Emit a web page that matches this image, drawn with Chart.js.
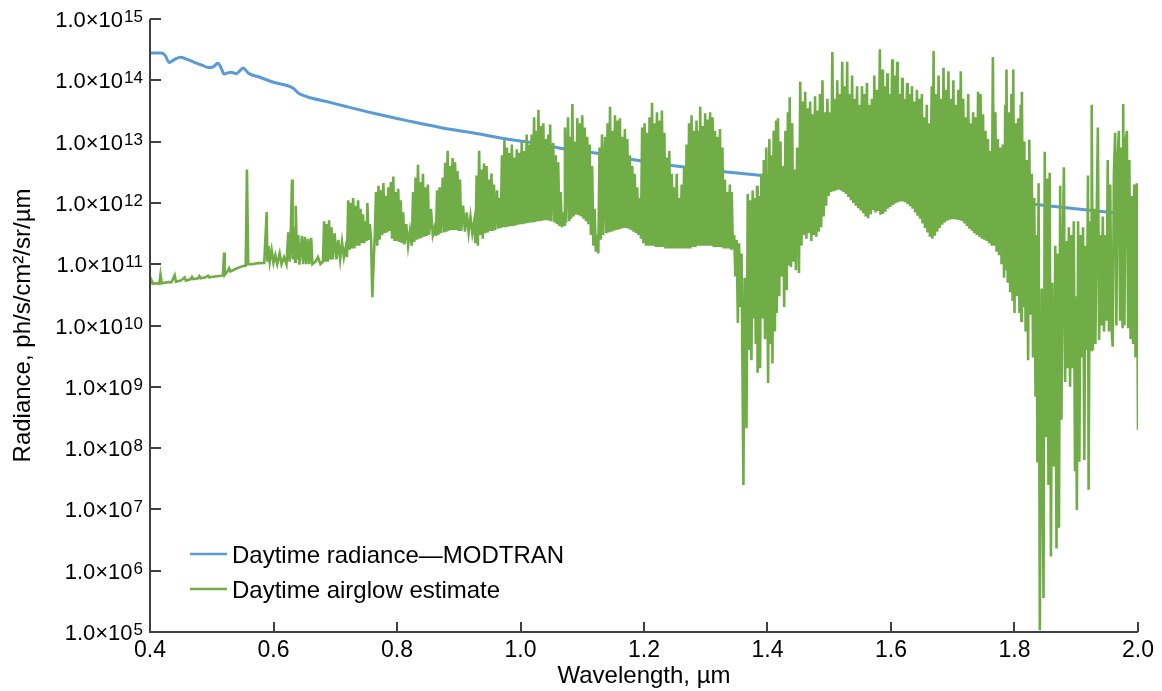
<!DOCTYPE html>
<html lang="en">
<head>
<meta charset="utf-8">
<title>Daytime radiance vs airglow</title>
<script src="https://cdn.jsdelivr.net/npm/chart.js"></script>
<style>
  html, body { margin: 0; padding: 0; background: #fff; }
</style>
</head>
<body>
<canvas id="myChart" width="1162" height="691"></canvas>
<script>
// tick values and labels
const wavelengthTicks = [0.4, 0.6, 0.8, 1.0, 1.2, 1.4, 1.6, 1.8, 2.0];
const radianceExponents = [5, 6, 7, 8, 9, 10, 11, 12, 13, 14, 15];
const seriesNames = ['Daytime radiance\u2014MODTRAN', 'Daytime airglow estimate'];
const xTitle = 'Wavelength, \u00b5m';
const yTitle = 'Radiance, ph/s/cm\u00b2/sr/\u00b5m';

// [wavelength um, radiance]
const modtran = [
  [0.400,2.8e14],[0.419,2.8e14],[0.425,2.5e14],[0.431,1.95e14],[0.440,2.2e14],[0.449,2.37e14],
  [0.460,2.2e14],[0.473,1.95e14],[0.485,1.75e14],[0.494,1.62e14],[0.502,1.65e14],[0.510,1.9e14],
  [0.515,1.6e14],[0.520,1.26e14],[0.526,1.32e14],[0.531,1.35e14],[0.540,1.28e14],[0.546,1.45e14],
  [0.551,1.58e14],[0.557,1.38e14],[0.562,1.26e14],[0.578,1.12e14],[0.600,9.3e13],[0.627,7.9e13],
  [0.633,7.3e13],[0.640,6.2e13],[0.654,5.4e13],[0.686,4.5e13],[0.719,3.7e13],[0.762,2.9e13],
  [0.816,2.2e13],[0.870,1.7e13],[0.924,1.38e13],[0.978,1.1e13],[1.032,9.1e12],[1.064,7.8e12],
  [1.118,6.6e12],[1.172,5.3e12],[1.226,4.3e12],[1.334,3.2e12],[1.420,2.6e12],[1.496,2.1e12],
  [1.658,1.45e12],[1.717,1.23e12],[1.820,9.8e11],[1.949,7.1e11],[2.000,6.3e11]
];

const airglow = [
  // visible, mostly smooth continuum
  [0.400,4.6e10],[0.402,5.6e10],[0.405,4.8e10],[0.410,4.9e10],[0.415,4.8e10],[0.417,6.8e10],[0.419,4.9e10],
  [0.425,5.0e10],[0.430,5.1e10],[0.435,5.1e10],[0.440,6.6e10],[0.442,5.2e10],[0.450,5.4e10],[0.456,6.1e10],
  [0.458,5.4e10],[0.466,5.7e10],[0.468,6.2e10],[0.470,5.7e10],[0.478,5.9e10],[0.480,6.4e10],[0.482,5.9e10],
  [0.490,6.1e10],[0.494,6.5e10],[0.496,6.1e10],[0.505,6.3e10],[0.515,6.5e10],[0.518,6.6e10],[0.520,1.55e11],
  [0.521,6.7e10],[0.526,7.8e10],[0.528,8.6e10],[0.530,7.6e10],[0.540,8.5e10],[0.550,9.3e10],[0.555,9.5e10],
  [0.557,3.5e12],[0.559,1.0e11],[0.565,1.0e11],[0.575,1.04e11],[0.585,1.05e11],
  // 0.59 - 0.79
  [0.589,7.1e11],[0.590,1.1e11],[0.592,2.0e11],[0.594,1.1e11],[0.597,1.7e11],[0.600,1.05e11],[0.603,1.4e11],
  [0.606,1.0e11],[0.610,1.5e11],[0.613,1.0e11],[0.617,1.3e11],[0.621,1.0e11],[0.624,3.3e11],[0.626,1.1e11],
  [0.628,3.6e11],[0.630,2.4e12],[0.631,1.2e11],[0.633,4.0e11],[0.635,1.1e11],[0.636,9.0e11],[0.638,1.2e11],
  [0.640,3.0e11],[0.642,9.8e10],[0.646,2.9e11],[0.648,1.0e11],[0.651,2.8e11],[0.653,1.0e11],[0.656,2.6e11],
  [0.658,1.0e11],[0.661,2.7e11],[0.663,1.0e11],[0.668,1.1e11],[0.672,1.3e11],[0.676,1.0e11],[0.680,1.1e11],
  [0.682,5.0e11],[0.684,1.1e11],[0.686,4.5e11],[0.688,1.1e11],[0.690,5.2e11],[0.692,1.2e11],[0.694,4.0e11],
  [0.696,1.2e11],[0.699,3.2e11],[0.702,1.2e11],[0.705,2.5e11],[0.708,1.2e11],[0.711,2.3e11],[0.714,1.3e11],
  [0.717,1.9e11],[0.719,1.3e11],[0.721,1.1e12],[0.723,1.7e11],[0.725,1.0e12],[0.727,1.8e11],[0.729,1.2e12],
  [0.731,1.8e11],[0.733,9.0e11],[0.735,2.0e11],[0.737,1.1e12],[0.739,2.0e11],[0.741,8.0e11],[0.743,2.2e11],
  [0.745,6.5e11],[0.747,2.2e11],[0.749,5.0e11],[0.751,2.4e11],[0.752,1.0e12],[0.754,2.5e11],[0.756,4.5e11],
  [0.758,2.6e11],[0.760,2.9e10],[0.762,1.0e11],[0.764,3.0e11],[0.766,1.5e12],[0.768,2.0e11],[0.770,1.9e12],
  [0.772,2.5e11],[0.774,1.6e12],[0.776,3.0e11],[0.778,2.1e12],[0.780,3.2e11],[0.782,1.3e12],[0.784,3.3e11],
  [0.786,1.8e12],[0.788,3.5e11],
  // 0.79 - 1.08
  [0.790,2.2e12],[0.792,2.6e11],[0.794,2.7e12],[0.796,2.4e11],[0.798,1.5e12],[0.800,2.4e11],[0.802,1.7e12],
  [0.804,2.3e11],[0.806,1.1e12],[0.808,2.2e11],[0.810,7.0e11],[0.812,2.1e11],[0.815,4.5e11],[0.818,2.0e11],
  [0.821,3.5e11],[0.824,2.0e11],[0.826,1.5e12],[0.828,2.3e11],[0.830,2.6e12],[0.832,2.5e11],[0.834,4.2e12],
  [0.836,2.6e11],[0.838,2.2e12],[0.840,2.7e11],[0.842,3.0e12],[0.844,2.8e11],[0.846,1.8e12],[0.848,2.9e11],
  [0.850,2.0e12],[0.852,3.0e11],[0.855,8.0e11],[0.858,3.0e11],[0.861,4.0e11],[0.863,2.9e11],[0.865,1.6e12],
  [0.867,3.0e11],[0.869,1.8e12],[0.871,3.2e11],[0.874,2.6e12],[0.876,3.3e11],[0.878,4.5e12],[0.880,3.4e11],
  [0.882,7.1e12],[0.884,3.5e11],[0.886,4.0e12],[0.888,3.6e11],[0.890,5.4e12],[0.892,3.6e11],[0.894,4.6e12],
  [0.896,3.6e11],[0.898,3.3e12],[0.900,3.5e11],[0.902,2.4e12],[0.904,3.5e11],[0.907,9.0e11],[0.910,3.4e11],
  [0.913,7.0e11],[0.916,3.3e11],[0.919,6.0e11],[0.922,3.2e11],[0.925,5.0e11],[0.927,2.2e11],[0.929,2.8e12],
  [0.931,2.0e11],[0.933,7.1e12],[0.935,3.0e11],[0.937,3.5e12],[0.939,2.6e11],[0.941,4.4e12],[0.943,3.2e11],
  [0.945,4.0e12],[0.947,3.3e11],[0.949,2.4e12],[0.951,3.5e11],[0.953,3.0e12],[0.955,3.5e11],[0.957,2.0e12],
  [0.959,3.6e11],[0.962,1.6e12],[0.964,3.8e11],[0.966,1.2e12],[0.968,3.9e11],[0.970,6.0e12],[0.972,4.0e11],
  [0.974,1.07e13],[0.976,4.0e11],[0.978,8.0e12],[0.980,4.1e11],[0.982,6.5e12],[0.984,4.2e11],[0.986,9.0e12],
  [0.988,4.2e11],[0.990,5.5e12],[0.992,4.3e11],[0.994,7.5e12],[0.996,4.4e11],[0.998,6.6e12],[1.000,4.5e11],
  [1.002,1.0e13],[1.004,4.5e11],[1.006,7.0e12],[1.008,4.6e11],[1.010,1.3e13],[1.012,4.7e11],[1.014,9.0e12],
  [1.016,4.8e11],[1.018,1.3e13],[1.020,4.8e11],[1.022,2.5e13],[1.024,4.9e11],[1.026,1.5e13],[1.028,5.0e11],
  [1.029,3.3e13],[1.031,5.0e11],[1.033,1.8e13],[1.035,5.1e11],[1.037,2.0e13],[1.039,5.2e11],[1.041,1.1e13],
  [1.043,5.2e11],[1.045,1.3e13],[1.047,5.1e11],[1.048,1.9e13],[1.050,5.0e11],[1.053,9.5e12],[1.055,4.8e11],
  [1.057,6.0e12],[1.059,4.5e11],[1.061,4.6e12],[1.063,4.2e11],[1.065,1.5e12],[1.067,4.0e11],[1.069,7.0e11],
  [1.071,4.4e11],[1.072,1.7e13],[1.074,4.8e11],[1.077,2.5e13],[1.079,5.0e11],[1.081,1.2e13],[1.082,5.5e11],
  // 1.08 - 1.34
  [1.084,4.1e13],[1.086,6.0e11],[1.088,1.0e13],[1.090,6.5e11],[1.092,2.4e13],[1.094,6.3e11],[1.096,2.0e13],
  [1.098,6.0e11],[1.100,2.7e13],[1.102,5.5e11],[1.104,1.7e13],[1.106,5.0e11],[1.108,1.2e13],[1.110,4.5e11],
  [1.112,9.0e12],[1.114,3.0e11],[1.116,4.0e12],[1.118,2.0e11],[1.120,8.0e11],[1.122,1.6e11],[1.124,3.0e11],
  [1.126,1.5e11],[1.128,8.0e12],[1.130,2.5e11],[1.132,1.3e13],[1.134,3.0e11],[1.137,1.2e13],[1.139,3.2e11],
  [1.141,2.0e13],[1.143,3.3e11],[1.145,3.7e13],[1.147,3.4e11],[1.149,1.5e13],[1.151,3.5e11],[1.153,2.7e13],
  [1.155,3.6e11],[1.157,2.2e13],[1.159,3.7e11],[1.161,2.4e13],[1.163,3.8e11],[1.165,1.2e13],[1.167,3.9e11],
  [1.169,1.6e13],[1.171,3.9e11],[1.173,1.1e13],[1.175,3.8e11],[1.177,6.0e12],[1.179,3.6e11],[1.181,4.0e12],
  [1.183,3.4e11],[1.185,3.0e12],[1.187,3.2e11],[1.189,1.8e12],[1.191,3.0e11],[1.193,1.2e12],[1.195,2.6e11],
  [1.197,1.7e13],[1.199,2.2e11],[1.201,2.0e13],[1.203,2.0e11],[1.205,1.4e13],[1.207,2.0e11],[1.209,2.5e13],
  [1.211,2.0e11],[1.213,4.3e13],[1.215,2.0e11],[1.217,2.0e13],[1.219,1.9e11],[1.221,3.0e13],[1.223,1.9e11],
  [1.225,2.2e13],[1.227,1.9e11],[1.229,3.2e13],[1.231,1.9e11],[1.233,1.4e13],[1.235,1.8e11],[1.237,5.5e12],
  [1.239,1.8e11],[1.241,7.0e12],[1.243,1.8e11],[1.245,3.0e12],[1.247,1.8e11],[1.249,1.8e12],[1.251,1.8e11],
  [1.253,3.0e12],[1.255,1.8e11],[1.257,1.2e12],[1.259,1.8e11],[1.261,2.0e12],[1.263,1.8e11],[1.265,4.0e12],
  [1.267,1.8e11],[1.269,9.0e12],[1.271,1.8e11],[1.273,2.0e13],[1.275,1.8e11],[1.277,2.7e13],[1.279,1.9e11],
  [1.281,1.5e13],[1.283,1.9e11],[1.285,2.2e13],[1.287,2.0e11],[1.289,1.5e13],[1.290,2.0e11],[1.291,3.7e13],
  [1.293,2.0e11],[1.295,1.8e13],[1.297,2.0e11],[1.299,2.9e13],[1.301,2.0e11],[1.303,2.3e13],[1.305,2.0e11],
  [1.307,3.0e13],[1.309,2.0e11],[1.311,2.5e13],[1.313,1.9e11],[1.315,1.5e13],[1.317,1.9e11],[1.319,1.2e13],
  [1.321,1.9e11],[1.323,1.6e13],[1.325,1.9e11],[1.327,8.0e12],[1.329,1.8e11],[1.331,2.4e12],[1.333,1.8e11],
  [1.335,1.5e12],[1.337,1.8e11],[1.339,2.0e12],[1.341,1.8e11],
  // 1.34 - 1.50 water band
  [1.342,1.5e12],[1.344,1.8e11],[1.346,3.0e11],[1.348,6.3e10],[1.350,2.5e11],[1.352,1.1e10],[1.354,2.2e11],
  [1.356,2.0e10],[1.358,1.5e11],[1.361,2.5e7],[1.363,6.0e10],[1.366,2.1e8],[1.368,1.4e12],[1.370,4.0e9],
  [1.372,1.1e12],[1.374,2.7e9],[1.376,1.6e12],[1.377,1.3e10],[1.379,1.2e12],[1.381,5.0e9],[1.383,1.9e12],
  [1.384,1.7e9],[1.386,1.3e12],[1.388,2.0e9],[1.390,3.0e12],[1.392,1.3e10],[1.394,5.0e12],[1.396,6.0e9],
  [1.398,8.0e12],[1.401,1.15e9],[1.403,1.1e13],[1.405,5.0e9],[1.407,6.0e12],[1.408,2.4e9],[1.410,1.5e13],
  [1.412,8.0e9],[1.414,2.2e13],[1.415,1.6e10],[1.417,2.4e13],[1.419,3.0e10],[1.421,1.0e13],[1.423,6.3e10],
  [1.425,4.0e12],[1.427,2.0e10],[1.429,1.5e13],[1.431,3.8e10],[1.433,3.0e13],[1.435,1.0e11],[1.436,5.3e13],
  [1.438,9.0e10],[1.440,2.0e13],[1.442,1.1e11],[1.444,3.5e12],[1.446,8.0e10],[1.448,8.0e12],[1.451,7.2e10],
  [1.453,9.5e13],[1.455,2.0e11],[1.457,4.5e13],[1.459,3.0e11],[1.461,6.5e13],[1.463,2.6e11],[1.465,3.5e13],
  [1.467,3.2e11],[1.469,4.5e13],[1.471,2.4e11],[1.473,2.8e13],[1.475,3.0e11],[1.477,5.5e13],[1.479,2.8e11],
  [1.481,3.2e13],[1.483,3.4e11],[1.485,6.0e13],[1.487,4.0e11],[1.489,1.0e14],[1.491,6.0e11],[1.493,3.0e13],
  [1.495,9.0e11],[1.497,5.0e13],[1.499,1.3e12],[1.501,3.0e13],[1.503,1.5e12],
  // 1.50 - 1.77
  [1.505,2.9e14],[1.507,1.55e12],[1.509,5.0e13],[1.511,1.6e12],[1.513,1.0e14],[1.515,1.65e12],[1.517,6.0e13],
  [1.519,1.6e12],[1.521,2.0e14],[1.523,1.5e12],[1.525,8.0e13],[1.527,1.4e12],[1.529,2.0e14],[1.531,1.25e12],
  [1.533,6.0e13],[1.535,1.1e12],[1.537,1.2e14],[1.539,1.0e12],[1.541,5.0e13],[1.543,9.0e11],[1.545,8.0e13],
  [1.547,8.2e11],[1.549,4.0e13],[1.551,7.5e11],[1.553,8.0e13],[1.555,6.8e11],[1.557,6.0e13],[1.559,6.0e11],
  [1.561,9.0e13],[1.563,5.6e11],[1.565,4.0e13],[1.567,6.5e11],[1.569,5.0e13],[1.571,7.6e11],[1.573,1.2e14],
  [1.575,7.0e11],[1.577,7.0e13],[1.579,7.4e11],[1.582,3.2e14],[1.583,6.4e11],[1.586,1.5e14],[1.587,6.6e11],
  [1.590,8.0e13],[1.591,7.2e11],[1.594,1.3e14],[1.595,8.0e11],[1.598,6.0e13],[1.599,8.6e11],[1.602,2.2e14],
  [1.603,9.2e11],[1.606,1.2e14],[1.607,9.8e11],[1.610,2.0e14],[1.611,1.02e12],[1.614,6.0e13],[1.615,1.05e12],
  [1.618,1.1e14],[1.619,1.05e12],[1.622,5.0e13],[1.623,1.02e12],[1.626,9.0e13],[1.627,9.5e11],[1.630,6.0e13],
  [1.631,8.8e11],[1.634,8.0e13],[1.635,8.0e11],[1.638,4.5e13],[1.639,7.0e11],[1.642,7.0e13],[1.643,6.2e11],
  [1.646,5.0e13],[1.647,5.5e11],[1.650,6.0e13],[1.651,4.6e11],[1.654,2.5e13],[1.655,3.9e11],[1.658,4.0e13],
  [1.659,3.3e11],[1.662,2.0e13],[1.663,2.8e11],[1.666,8.0e13],[1.667,2.6e11],[1.669,3.0e14],[1.671,2.9e11],
  [1.673,6.0e13],[1.675,3.4e11],[1.677,1.2e14],[1.679,3.9e11],[1.681,5.0e13],[1.683,4.4e11],[1.685,1.6e14],
  [1.687,4.8e11],[1.689,7.0e13],[1.691,5.1e11],[1.693,1.4e14],[1.695,5.3e11],[1.697,5.0e13],[1.699,5.4e11],
  [1.701,1.0e14],[1.703,5.4e11],[1.705,4.0e13],[1.707,5.3e11],[1.709,7.0e13],[1.711,5.2e11],[1.713,1.4e14],
  [1.715,5.0e11],[1.717,5.0e13],[1.719,4.6e11],[1.721,2.5e13],[1.723,4.2e11],[1.725,6.0e13],[1.727,3.8e11],
  [1.729,2.0e13],[1.731,3.5e11],[1.733,3.0e13],[1.735,3.2e11],[1.737,2.5e13],[1.739,3.0e11],[1.741,6.5e13],
  [1.743,2.8e11],[1.745,6.0e13],[1.747,2.6e11],[1.749,2.8e13],[1.751,2.5e11],[1.753,1.5e13],[1.755,2.4e11],
  [1.757,1.1e13],[1.759,2.2e11],[1.761,7.0e12],[1.763,2.0e11],
  // 1.77 - 2.00 water band
  [1.765,2.4e14],[1.767,2.0e11],[1.769,3.0e13],[1.771,1.6e11],[1.773,1.1e13],[1.775,1.4e11],[1.777,8.0e12],
  [1.779,1.0e11],[1.781,9.0e12],[1.783,6.0e10],[1.785,4.0e13],[1.786,8.0e10],[1.787,1.5e14],[1.789,5.0e10],
  [1.791,3.0e13],[1.793,3.5e10],[1.795,6.0e13],[1.797,2.5e10],[1.798,1.5e14],[1.800,1.6e10],[1.802,2.0e13],
  [1.804,3.0e10],[1.806,2.4e13],[1.808,1.6e10],[1.810,4.0e13],[1.811,1.2e10],[1.812,6.5e13],[1.814,2.0e10],
  [1.816,1.0e13],[1.818,8.0e9],[1.820,5.0e12],[1.822,2.7e9],[1.824,1.07e13],[1.826,1.5e10],[1.828,3.0e12],
  [1.830,3.0e9],[1.832,1.2e12],[1.834,6.9e8],[1.836,3.0e11],[1.837,5.8e7],[1.839,2.1e12],[1.841,1.07e5],
  [1.844,4.0e10],[1.847,3.6e5],[1.849,6.8e12],[1.851,1.5e8],[1.853,2.5e12],[1.855,2.5e7],[1.857,3.1e12],
  [1.859,1.7e6],[1.861,5.0e10],[1.864,5.0e7],[1.866,2.0e11],[1.868,2.3e6],[1.870,1.5e11],[1.872,5.0e6],
  [1.874,1.9e12],[1.876,2.9e8],[1.878,1.0e11],[1.880,3.8e12],[1.882,1.2e9],[1.884,2.4e11],[1.886,2.0e9],
  [1.888,4.0e11],[1.890,1.0e9],[1.892,3.0e11],[1.894,2.0e9],[1.896,5.0e11],[1.898,4.4e7],[1.899,3.0e10],
  [1.901,9.8e6],[1.903,5.0e11],[1.905,6.0e7],[1.907,3.0e11],[1.909,3.0e9],[1.911,4.0e11],[1.913,6.4e7],
  [1.915,2.0e11],[1.917,4.0e9],[1.919,2.8e12],[1.920,2.1e7],[1.922,5.0e11],[1.924,4.0e9],[1.925,4.0e13],
  [1.927,4.0e9],[1.929,8.0e11],[1.931,5.0e9],[1.933,5.0e11],[1.935,1.7e13],[1.937,5.8e9],[1.939,3.0e11],
  [1.941,1.0e10],[1.943,6.0e11],[1.945,8.0e9],[1.947,3.0e11],[1.949,1.2e10],[1.951,5.0e12],[1.953,8.0e9],
  [1.955,2.0e12],[1.957,1.0e10],[1.959,4.5e9],[1.961,3.0e12],[1.963,1.4e13],[1.965,1.0e10],[1.967,5.0e12],
  [1.969,1.5e13],[1.971,1.2e10],[1.973,8.0e12],[1.975,9.0e9],[1.976,4.1e13],[1.978,1.0e10],[1.980,1.0e13],
  [1.982,1.5e13],[1.984,9.0e9],[1.986,5.0e12],[1.988,6.0e9],[1.990,1.3e12],[1.992,5.0e9],[1.994,2.0e12],
  [1.996,3.0e9],[1.998,2.1e12],[2.000,2.0e8]
];

const BLUE = '#5b9bd5';
const GREEN = '#70ad47';
const AXIS = '#404040';
const FONT = '"Liberation Sans", Arial, Helvetica, sans-serif';

// axes, inward ticks, labels with superscripts and the legend are painted here
const axisDecor = {
  id: 'axisDecor',
  afterDraw(chart) {
    const { ctx, chartArea: a, scales: { x, y } } = chart;
    ctx.save();

    ctx.strokeStyle = AXIS;
    ctx.lineWidth = 2;
    ctx.beginPath();
    ctx.moveTo(a.left, a.top);
    ctx.lineTo(a.left, a.bottom);
    ctx.lineTo(a.right, a.bottom);
    for (const v of wavelengthTicks) {
      const px = Math.round(x.getPixelForValue(v));
      ctx.moveTo(px, a.bottom);
      ctx.lineTo(px, a.bottom - 10);
    }
    for (const e of radianceExponents) {
      const py = Math.round(y.getPixelForValue(Math.pow(10, e)));
      ctx.moveTo(a.left, py);
      ctx.lineTo(a.left + 11, py);
    }
    ctx.stroke();

    ctx.fillStyle = '#000';

    // x tick labels
    ctx.font = '23px ' + FONT;
    ctx.textAlign = 'center';
    ctx.textBaseline = 'alphabetic';
    for (const v of wavelengthTicks) {
      ctx.fillText(v.toFixed(1), x.getPixelForValue(v), a.bottom + 25);
    }

    // y tick labels: 1.0x10 with raised exponent
    for (const e of radianceExponents) {
      const py = y.getPixelForValue(Math.pow(10, e));
      ctx.font = '17px ' + FONT;
      ctx.textAlign = 'right';
      const expW = ctx.measureText(String(e)).width;
      ctx.fillText(String(e), a.left - 7, py + 3);
      ctx.font = '22px ' + FONT;
      ctx.fillText('1.0\u00d710', a.left - 8 - expW, py + 8);
    }

    // axis titles
    ctx.font = '24px ' + FONT;
    ctx.textAlign = 'center';
    ctx.fillText(xTitle, (a.left + a.right) / 2, a.bottom + 51);
    ctx.save();
    ctx.translate(30, (a.top + a.bottom) / 2);
    ctx.rotate(-Math.PI / 2);
    ctx.fillText(yTitle, 0, 0);
    ctx.restore();

    // legend
    const items = [[seriesNames[0], BLUE], [seriesNames[1], GREEN]];
    ctx.textAlign = 'left';
    items.forEach(([name, color], i) => {
      const ly = 554 + i * 35;
      ctx.strokeStyle = color;
      ctx.lineWidth = 2.5;
      ctx.beginPath();
      ctx.moveTo(190, ly);
      ctx.lineTo(227, ly);
      ctx.stroke();
      ctx.fillText(name, 232, ly + 9);
    });

    ctx.restore();
  }
};

new Chart(document.getElementById('myChart'), {
  type: 'line',
  data: {
    datasets: [{
      label: seriesNames[1],
      data: airglow.map(([w, r]) => ({ x: w, y: r })),
      borderColor: GREEN,
      borderWidth: 2.6,
      pointRadius: 0,
      tension: 0,
      order: 1
    }, {
      label: seriesNames[0],
      data: modtran.map(([w, r]) => ({ x: w, y: r })),
      borderColor: BLUE,
      borderWidth: 3,
      pointRadius: 0,
      cubicInterpolationMode: 'monotone',
      order: 2
    }]
  },
  options: {
    responsive: false,
    animation: false,
    devicePixelRatio: 1,
    layout: { padding: { left: 150, right: 24, top: 19, bottom: 59 } },
    plugins: { legend: { display: false }, tooltip: { enabled: false } },
    scales: {
      x: { type: 'linear', min: 0.4, max: 2.0, display: false },
      y: { type: 'logarithmic', min: 1e5, max: 1e15, display: false }
    }
  },
  plugins: [axisDecor]
});
</script>
</body>
</html>
